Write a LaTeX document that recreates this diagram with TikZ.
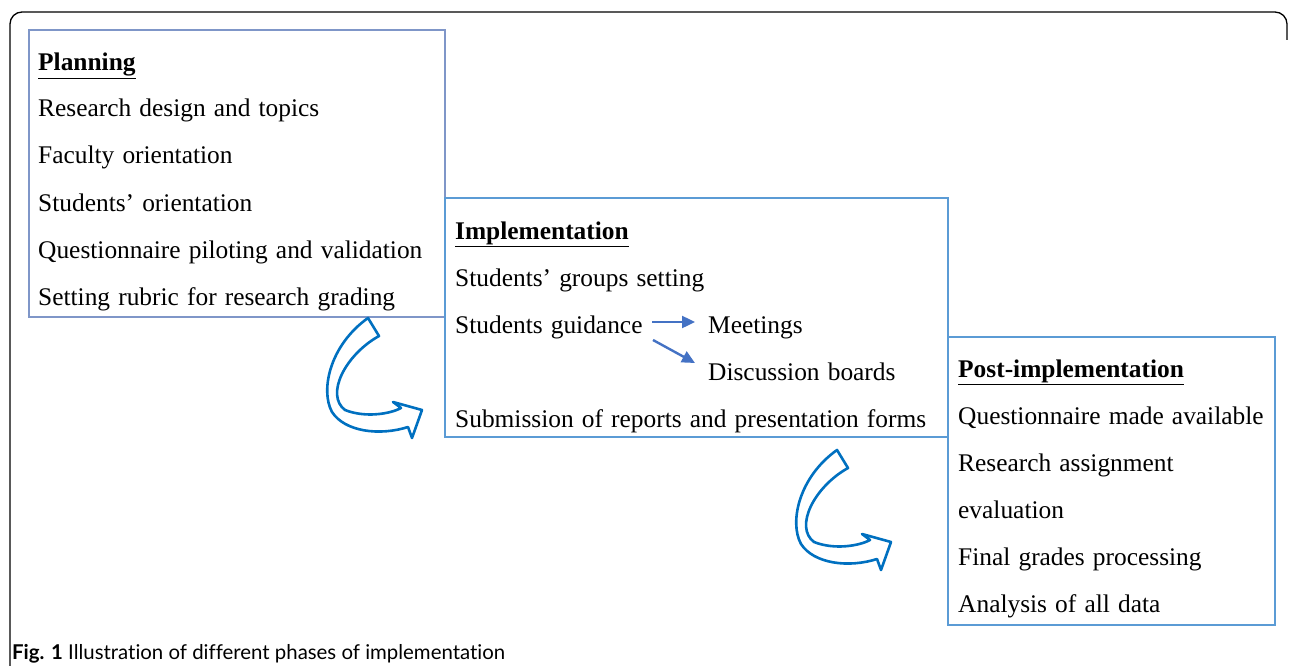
\documentclass[tikz,border=0pt]{standalone}
\usepackage{fontspec}
\setmainfont{Liberation Serif}
\newfontfamily\capfont[Ligatures={NoCommon,NoRequired,NoContextual}]{Lato}
\usetikzlibrary{arrows.meta}
\definecolor{planblue}{RGB}{127,150,200}
\definecolor{boxblue}{RGB}{91,155,213}
\definecolor{arrblue}{RGB}{0,112,192}
\definecolor{smallarr}{RGB}{68,114,196}
\newcommand\headul[1]{\underline{\textbf{#1}}}
\newcommand\boxfont{\fontsize{25.4}{30}\selectfont\spaceskip=0.32em plus 0.1em\relax}
\tikzset{
  phasebox/.style={draw=boxblue, line width=1.6pt},
  planbox/.style={draw=planblue, line width=1.6pt},
  txt/.style={anchor=base west, inner sep=0pt, font=\boxfont},
  curvedarrow/.style={draw=arrblue, line width=2.6pt, line join=round},
  smallarrow/.style={draw=smallarr, line width=2.4pt, -{Triangle[length=13pt,width=12pt]}},
  frameline/.style={draw=black, line width=1.3pt}
}
\begin{document}
\begin{tikzpicture}[x=1pt,y=-1pt]
\useasboundingbox (0,0) rectangle (1290,666);
% outer frame
\draw[frameline, rounded corners=12pt] (10,700) -- (10,12) -- (1287,12) -- (1287,40);
% boxes
\draw[planbox] (29,30) rectangle (445,317);
\draw[phasebox] (445,198) rectangle (948,437);
\draw[phasebox] (948,337) rectangle (1275,625);
% Planning
\node[txt] (p0) at (38,71) {\headul{Planning}};
\node[txt] (p1) at (38,117) {Research design and topics};
\node[txt] (p2) at (38,164) {Faculty orientation};
\node[txt] (p3) at (38,211) {Students’ orientation};
\node[txt] (p4) at (38,258) {Questionnaire piloting and validation};
\node[txt] (p5) at (38,305) {Setting rubric for research grading};
% Implementation
\node[txt] (i0) at (455,239) {\headul{Implementation}};
\node[txt] (i1) at (455,286) {Students’ groups setting};
\node[txt] (i2) at (455,333) {Students guidance};
\node[txt] (i3) at (708,333) {Meetings};
\node[txt] (i4) at (708,380) {Discussion boards};
\node[txt] (i5) at (455,427) {Submission of reports and presentation forms};
\coordinate (h1) at (652,322);
\coordinate (h2) at (695,322);
\coordinate (d1) at (653,340);
\coordinate (d2) at (695,363);
\draw[smallarrow] (h1) -- (h2);
\draw[smallarrow] (d1) -- (d2);
% Post-implementation
\node[txt] (q0) at (958,377) {\headul{Post-implementation}};
\node[txt] (q1) at (958,424) {Questionnaire made available};
\node[txt] (q2) at (958,471) {Research assignment};
\node[txt] (q3) at (958,518) {evaluation};
\node[txt] (q4) at (958,565) {Final grades processing};
\node[txt] (q5) at (958,612) {Analysis of all data};
% curved arrows
\foreach \sx/\sy in {368/318, 837/450}{
  \begin{scope}[shift={(\sx,\sy)}]
    \draw[curvedarrow] (0,0) -- (11,18)
      .. controls (-23,37) and (-43,77) .. (-23,92)
      .. controls (-3,100) and (22,96) .. (33,90)
      -- (25,84) -- (54,92) -- (44,120) -- (40,109)
      .. controls (12,118) and (-23,114) .. (-36,94)
      .. controls (-48,72) and (-38,27) .. (0,0) -- cycle;
  \end{scope}
}
% caption
\node[anchor=base west, inner sep=0pt, font=\capfont\fontsize{20.4}{24}\selectfont] (cap) at (12,659) {\textbf{Fig. 1} Illustration of different phases of implementation};
\end{tikzpicture}
\end{document}
